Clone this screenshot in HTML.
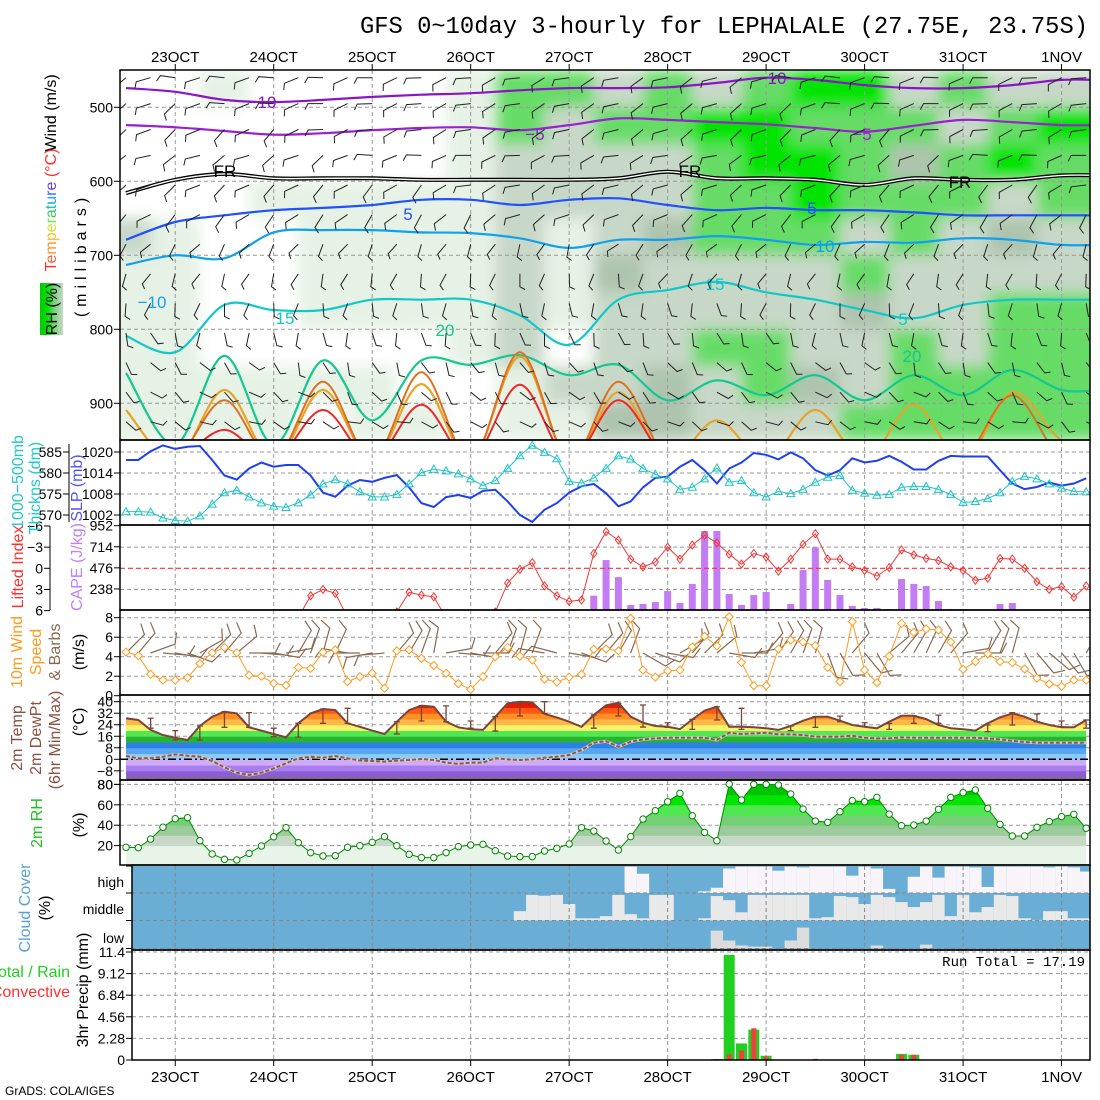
<!DOCTYPE html>
<html><head><meta charset="utf-8"><title>GFS meteogram LEPHALALE</title>
<style>
html,body{margin:0;padding:0;background:#fff;}
svg{display:block;font-family:"Liberation Sans",sans-serif;}
.tk{font-size:14px;fill:#000;}
.lab{font-size:16px;}
</style></head>
<body>
<svg id="chart" width="1100" height="1100" viewBox="0 0 1100 1100" xmlns="http://www.w3.org/2000/svg">
<defs>
<clipPath id="cpUpper"><rect x="120" y="70" width="970" height="370"/></clipPath>
<clipPath id="cpSlp"><rect x="120" y="440" width="970" height="85"/></clipPath>
<clipPath id="cpCape"><rect x="120" y="525" width="970" height="85"/></clipPath>
<clipPath id="cpWind"><rect x="120" y="610" width="970" height="85"/></clipPath>
<clipPath id="cpTemp"><rect x="120" y="695" width="970" height="85"/></clipPath>
<clipPath id="cpRh"><rect x="120" y="780" width="970" height="85"/></clipPath>
<clipPath id="cpPrec"><rect x="132" y="950" width="958" height="110"/></clipPath>
<filter id="blurF" x="-5%" y="-5%" width="110%" height="110%"><feGaussianBlur stdDeviation="7"/></filter>
<linearGradient id="rhGrad" x1="0" y1="0" x2="1" y2="0">
<stop offset="0" stop-color="#00c800"/><stop offset="0.35" stop-color="#00e600"/><stop offset="0.6" stop-color="#78d078"/><stop offset="1" stop-color="#c8d8c8"/></linearGradient>
</defs>
<rect x="0" y="0" width="1100" height="1100" fill="#fff"/>
<text x="360" y="33" font-family="Liberation Mono, monospace" font-size="24" textLength="728" lengthAdjust="spacingAndGlyphs">GFS 0~10day 3-hourly for LEPHALALE (27.75E, 23.75S)</text>

<g id="layerShade" clip-path="url(#cpUpper)"></g>
<g id="layerGrid"></g>
<g id="layerUpper" clip-path="url(#cpUpper)"></g>
<g id="layerSlp" clip-path="url(#cpSlp)"></g>
<g id="layerCape" clip-path="url(#cpCape)"></g>
<g id="layerWind" clip-path="url(#cpWind)"></g>
<g id="layerTemp" clip-path="url(#cpTemp)"></g>
<g id="layerRh" clip-path="url(#cpRh)"></g>
<g id="layerCloud"></g>
<g id="layerPrec" clip-path="url(#cpPrec)"></g>
<g id="layerFrame"></g>
<g id="layerAxes"></g>

<g>
<text class="lab" transform="translate(56,113) rotate(-90)" text-anchor="middle">Wind (m/s)</text>
<text class="lab" transform="translate(56,210) rotate(-90)" text-anchor="middle"><tspan fill="#ff3030">T</tspan><tspan fill="#ff6030">e</tspan><tspan fill="#ff9030">m</tspan><tspan fill="#f0c030">p</tspan><tspan fill="#d0e030">e</tspan><tspan fill="#80e040">r</tspan><tspan fill="#30d060">a</tspan><tspan fill="#20c0b0">t</tspan><tspan fill="#20a0f0">u</tspan><tspan fill="#3070f0">r</tspan><tspan fill="#6040f0">e</tspan><tspan fill="#ff3030"> (°C)</tspan></text>
<text class="lab" transform="translate(86,255) rotate(-90)" text-anchor="middle" letter-spacing="5">(millibars)</text>
<rect x="40" y="283" width="23" height="52" fill="url(#rhGrad)"/>
<text class="lab" transform="translate(57,309) rotate(-90)" text-anchor="middle" font-size="15">RH (%)</text>
</g>
<g>
<text class="lab" fill="#20c8c8" transform="translate(23,482) rotate(-90)" text-anchor="middle">1000−500mb</text>
<text class="lab" fill="#20c8c8" transform="translate(40,488) rotate(-90)" text-anchor="middle">Thickns (dm)</text>
<text class="lab" fill="#5050ff" transform="translate(82,488) rotate(-90)" text-anchor="middle">SLP (mb)</text>
<text class="lab" fill="#ff3030" transform="translate(23,567) rotate(-90)" text-anchor="middle">Lifted Index</text>
<text class="lab" fill="#c080f8" transform="translate(82,567) rotate(-90)" text-anchor="middle">CAPE (J/kg)</text>
<text class="lab" fill="#ff9a20" transform="translate(22,652) rotate(-90)" text-anchor="middle">10m Wind</text>
<text class="lab" fill="#ff9a20" transform="translate(41,652) rotate(-90)" text-anchor="middle">Speed</text>
<text class="lab" fill="#8a6a50" transform="translate(60,652) rotate(-90)" text-anchor="middle">&amp; Barbs</text>
<text class="lab" transform="translate(84,652) rotate(-90)" text-anchor="middle">(m/s)</text>
<text class="lab" fill="#8a5040" transform="translate(22,738) rotate(-90)" text-anchor="middle">2m Temp</text>
<text class="lab" fill="#8a5040" transform="translate(41,738) rotate(-90)" text-anchor="middle">2m DewPt</text>
<text class="lab" fill="#8a5040" transform="translate(60,740) rotate(-90)" text-anchor="middle">(6hr Min/Max)</text>
<text class="lab" transform="translate(84,722) rotate(-90)" text-anchor="middle">(°C)</text>
<text class="lab" fill="#20c020" transform="translate(42,823) rotate(-90)" text-anchor="middle">2m RH</text>
<text class="lab" transform="translate(84,825) rotate(-90)" text-anchor="middle">(%)</text>
<text class="lab" fill="#5aa0d8" transform="translate(30,908) rotate(-90)" text-anchor="middle">Cloud Cover</text>
<text class="lab" transform="translate(50,908) rotate(-90)" text-anchor="middle">(%)</text>
<text class="lab" x="70" y="977" text-anchor="end" fill="#20d020">Total / Rain</text>
<text class="lab" x="70" y="997" text-anchor="end" fill="#ff3030">Convective</text>
<text class="lab" transform="translate(88,990) rotate(-90)" text-anchor="middle">3hr Precip (mm)</text>
<text class="tk" x="124" y="887" text-anchor="end" font-size="15">high</text>
<text class="tk" x="124" y="914" text-anchor="end" font-size="15">middle</text>
<text class="tk" x="124" y="943" text-anchor="end" font-size="15">low</text>
<text x="1085" y="966" text-anchor="end" font-family="Liberation Mono, monospace" font-size="14">Run Total = 17.19</text>
<text x="5" y="1095" font-size="12">GrADS: COLA/IGES</text>
</g>
</svg>
<script>
// ---------- data (3-hourly, from 22OCT12Z) ----------
const dayLabels=['23OCT','24OCT','25OCT','26OCT','27OCT','28OCT','29OCT','30OCT','31OCT','1NOV'];
const slp=[1017.7,1017.7,1020.2,1021.9,1020.9,1021.5,1021.7,1017.7,1013.3,1012.1,1015.3,1017,1015.8,1016.3,1016.3,1013.3,1008.4,1007.2,1010.4,1012,1011.5,1012.6,1013.4,1009.9,1005.4,1004.3,1007.1,1007.7,1006.9,1008.9,1009.2,1005.9,1002,1000,1003.5,1005.4,1008.4,1010.2,1010.9,1008.2,1004.5,1005.9,1009.9,1012.6,1013,1015.8,1017.7,1014.8,1011,1015.3,1017,1019.7,1019.2,1017.9,1019.9,1018.2,1014.8,1013.3,1014.8,1018.2,1017,1017.5,1018.9,1017.2,1015,1015,1017.5,1018.9,1018.7,1018.7,1018.7,1014.8,1011,1009.4,1010,1011.3,1010.4,1011,1012.5];
const thick=[570.8,570.8,570.7,569.3,568.7,568.5,569.8,572.6,575.3,575.9,574.3,572.9,572.1,571.8,572.9,574.8,577.4,578.4,577.4,575.5,574.3,574.3,574.9,577.4,580.1,580.9,580.5,579.8,578.6,577,578.2,581.1,584.1,586.6,584.9,583.4,578,577.6,578.8,581.1,584.1,583.3,581.1,579.7,578.6,576.1,576.6,578.6,581.2,577.8,578.2,575.3,574.3,575.6,575.1,576.1,577.8,579,579.4,575.9,575.2,574.7,574.9,576.6,576.8,576.8,576.1,574.9,573,573.2,573.9,575.3,578,579.2,578.6,577.4,576.4,575.6,575.5];
const liftedIndex=[9,9,9,9,9,9,9,9,9,9,9,9,9,9,7,3.9,3,3.55,7,9,9,9,6.2,3.4,3.8,4.05,7,9,9,9,6.2,2.1,0.15,-0.8,2.5,3.9,4.7,4.5,-2.1,-5.2,-4,-1.3,-0.2,-0.9,-3,-1.3,-3.3,-4.7,-3.6,-2,-0.6,-2.1,-1.6,0.4,-1.3,-3.4,-4.9,-1.3,-1.3,-0.2,0.3,1.1,-0.1,-2.6,-1.9,-1.4,-1.1,-0.2,0.3,1.7,1.4,-1.4,-1.3,0,1.9,3,2.6,4.1,2.5];
const cape=[0,0,0,0,0,0,0,0,0,0,0,0,0,0,0,0,0,0,0,0,0,0,0,0,0,0,0,0,0,0,0,0,11,0,0,0,0,0,162,564,372,56,68,90,214,79,294,892,892,181,56,169,203,11,68,451,707,339,169,45,23,23,11,350,294,271,102,11,11,0,0,68,79,0,0,0,0,0,0];
const windSpeed=[4.48,4.1,2.2,1.6,1.6,1.85,3.3,4.4,4.95,4.4,2.1,2.0,1.27,1.07,2.9,2.8,4.45,4.7,1.44,1.95,2.3,0.76,4.6,4.7,3.83,3.1,2.3,1.24,0.65,1.95,4.0,4.95,4.06,3.66,1.7,1.4,1.9,2.2,4.76,4.8,4.6,7.93,2.63,1.9,2.55,2.63,5.0,6.1,5.1,8.1,3.4,1.03,1.03,4.8,5.7,5.5,5.13,2.9,1.44,7.6,2.63,1.34,4.06,7.4,6.5,6.84,6.74,5.5,2.7,3.5,4.3,3.5,3.4,2.74,1.8,1.2,0.96,1.6,1.6];
const windDir10=[45,40,70,95,100,110,60,45,40,50,90,95,100,80,30,20,15,25,280,270,260,265,40,30,20,10,80,95,100,90,40,20,15,20,280,285,100,110,45,40,30,20,120,110,100,60,40,45,50,100,90,80,40,35,30,20,15,160,150,40,140,150,50,40,30,25,30,40,80,90,30,20,15,150,140,130,140,150,30];
const temp2m=[28.5,27.3,20.4,16.9,15,13.4,23.1,29.6,33.1,31.9,22.2,19.9,17.6,15.3,25,31.9,34.9,34.2,25,22.6,19.9,17.6,26.1,34.2,37.3,36.5,26.1,22.2,20.8,20.4,29.6,38.9,40,39.6,31.5,29.1,26.1,22.6,30.8,37.5,39.3,29.6,25.4,23.1,22.6,21,27.7,33.8,36.5,22.6,22.6,22.2,21.5,20.4,23.1,26.8,29.6,29.6,26.8,23.8,22.6,21.5,26.1,30.2,30.2,27.9,23.8,21.5,20.8,19.9,25,29.1,31.9,29.6,26.1,23.8,22.2,22.2,27.3];
const dewpt2m=[2.3,0.7,0.7,1.8,3.4,2.5,1.8,-1.2,-5.6,-9.3,-10.9,-9.3,-6.3,-2.8,0.7,1.8,1.1,2.3,0.7,-0.9,-1.2,-1.6,-0.9,-0.5,0.2,-0.5,-2.3,-3.2,-2.3,-2.3,0.7,0,-0.5,0,1.1,1.8,3,6.4,11.5,12.6,8.7,12.2,13.8,14.5,15,15,15,15,13.4,18.5,17.6,18,18.5,17.3,17.3,16.9,15.7,15.7,15.7,16.4,15,14.5,14.5,15.2,15,15,15,15,15,15,14.5,13.8,12.8,12,11.5,11.5,11.5,11.5,11.5];
const tMax6=[null,null,28.5,null,19.9,null,23.1,null,33.1,null,32.4,null,21.6,null,25,null,34.9,null,35.4,null,null,null,26.1,null,37.3,null,37.1,null,26.6,null,29.6,null,39.3,null,40,null,null,null,30.8,null,38.9,null,37.7,null,25.4,null,27.7,null,36.5,null,35.4,null,null,null,23.1,null,29.6,null,30,null,25.4,null,24.9,null,30.2,null,30.7,null,null,null,23.8,null,32.4,null,31.5,null,26.6,null,27.3];
const tMin6=[null,null,21.6,null,13.4,null,13.4,null,22.2,null,22.2,null,15.7,null,15.3,null,25,null,25,null,null,null,17.6,null,26.6,null,26.1,null,21.6,null,19.6,null,30.1,null,31.9,null,null,null,21.6,null,30.1,null,22.4,null,22.2,null,20.8,null,27.3,null,20.8,null,null,null,19.9,null,22.2,null,26.1,null,22.6,null,20.8,null,25,null,25,null,null,null,19.2,null,23.8,null,26.1,null,22.6,null,21.6];
const rh2m=[18.3,18,26.4,38,46.4,47.4,24.8,11.8,6.5,5.9,12.4,19.6,28.7,37.6,22.9,13.1,9.8,10.1,18.3,19.9,23.2,28.8,19.9,11.4,8.2,8.2,13.1,19,20.6,21.2,15,9.8,9.2,9.2,14.7,17.3,21.6,37.6,34.3,24.5,15.7,28.8,46,54.2,63,71.2,49.3,32.9,24.8,80.4,64.7,80,80,79.4,70.6,55.8,44.1,42.8,53.2,64.1,63,67.3,50.9,39.5,40.2,44.1,55.6,67.3,71.9,74.5,56.5,40.8,29.4,29.4,37.9,43.5,48.4,50.7,37];
const cloudHigh=[0,0,0,0,0,0,0,0,0,0,0,0,0,0,0,0,0,0,0,0,0,0,0,0,0,0,0,0,0,0,0,0,0,0,0,0,0,0,0,0,0,96,70,0,0,0,0,6,19,89,96,96,96,81,96,93,96,96,96,63,96,89,15,0,59,96,56,96,96,93,22,96,96,96,96,93,96,93,78];
const cloudMid=[0,0,0,0,0,0,0,0,0,0,0,0,0,0,0,0,0,0,0,0,0,0,0,0,0,0,0,0,0,0,0,0,34,93,90,93,60,8,8,16,93,23,8,93,93,0,0,8,89,74,30,93,93,93,93,93,8,12,89,85,60,93,85,67,49,67,93,16,93,30,49,93,89,8,2,34,34,8,8];
const cloudLow=[0,0,0,0,0,0,0,0,0,0,0,0,0,0,0,0,0,0,0,0,0,0,0,0,0,0,0,0,0,0,0,0,0,0,0,0,0,0,0,0,0,0,0,0,0,0,0,0,65,29,11,7,7,0,29,76,0,0,0,0,0,11,0,0,0,14,0,0,0,0,0,0,0,0,0,0,0,0,0];
const precipTotal=[0,0,0,0,0,0,0,0,0,0,0,0,0,0,0,0,0,0,0,0,0,0,0,0,0,0,0,0,0,0,0,0,0,0,0,0,0,0,0,0,0,0,0,0,0,0,0,0,0.1,11.1,1.75,3.2,0.45,0,0,0,0,0,0,0,0,0,0,0.65,0.55,0,0,0,0,0,0.05,0.05,0,0,0,0,0,0.05,0.05];
const precipConv=[0,0,0,0,0,0,0,0,0,0,0,0,0,0,0,0,0,0,0,0,0,0,0,0,0,0,0,0,0,0,0,0,0,0,0,0,0,0,0,0,0,0,0,0,0,0,0,0,0.1,0.6,1.0,3.35,0.35,0,0,0,0.12,0,0,0,0,0,0,0.55,0.55,0,0,0,0,0,0.05,0.05,0,0,0,0,0,0.05,0.05];
const isoM10=[474,479,490,493,490,486,483,481,477,474,474,473,467,460,463,470,474,474,470,463];
const isoM5=[524,527,532,537,535,531,528,527,531,524,515,517,520,523,528,533,525,517,520,524];
const iso0=[616,598,590,596,596,596,598,598,598,598,596,587,596,596,598,605,596,598,598,592];
const iso5=[679,655,646,639,636,632,625,625,632,625,623,632,639,636,639,639,642,646,646,646];
const iso10=[713,700,704,669,666,666,669,670,677,690,679,679,674,679,686,682,683,677,679,686];
const iso15=[809,831,767,774,774,760,760,760,781,821,760,747,736,750,760,774,785,767,760,760];
const iso20=[859,956,836,956,842,923,842,848,835,862,848,896,869,889,862,896,862,889,855,882];
const iso25=[909,977,882,977,882,977,874,977,837,977,885,977,923,977,909,977,902,977,885,950];
const iso27=[977,977,896,977,871,977,858,977,831,977,871,977,977,977,977,977,977,977,889,977];
const iso30=[977,977,936,977,909,977,902,977,875,977,896,977,977,977,977,977,977,977,977,977];
const rhGrid=[
"00100001442424552422",
"00000001424455444245",
"00000001222245543454",
"00011111222244544424",
"21001111212344424232",
"11001111213222242222",
"11001111212222232244",
"11000001202244224244",
"11111100122324324444",
"11110110113322244444"];
const upLevels=[460,495,530,565,605,645,685,725,765,805,845,885,925];
const upDir=[255,250,245,250,240,230,215,200,185,170,150,135,120];
const upSpeed=[15,14,12,11,10,9,8,7,6,6,5,5,5];
const tickUpper=[500,600,700,800,900];
const tickSlp=[1020,1014,1008,1002];
const tickThick=[585,580,575,570];
const tickLI=[-6,-3,0,3,6];
const tickCape=[952,714,476,238];
const tickWind=[0,2,4,6,8];
const tickTemp=[40,32,24,16,8,0,-8];
const tickRh=[20,40,60,80];
const tickPrec=[0,2.28,4.56,6.84,9.12,11.4];

const NS='http://www.w3.org/2000/svg';
function X(i){return 126+i*12.31;}
function XK(k){return 126+k*49.24;}
function XD(d){return X(4+8*d);}
function yP(p){return 107.3+(p-500)*0.74;}
function ySlp(v){return 452+(1020-v)*21/6;}
function yTh(v){return 452+(585-v)*21/5;}
function yLI(v){return 568.3+v*7.05;}
function yCape(v){return 610-v*84.3/952;}
function yW(v){return 695.7-v*9.75;}
function yT(v){return 759.3-v*1.44;}
function yRH(v){return 866-v*1.02;}
function yPr(v){return 1060-v*108/11.4;}
function mk(tag,attrs,parent){const e=document.createElementNS(NS,tag);for(const k in attrs)e.setAttribute(k,attrs[k]);parent.appendChild(e);return e;}
function L(id){return document.getElementById(id);}
function poly(xs,ys){return xs.map((x,j)=>(j?'L':'M')+x.toFixed(1)+' '+ys[j].toFixed(1)).join(' ');}
function smooth(xs,ys){let d='M'+xs[0]+' '+ys[0];for(let j=0;j<xs.length-1;j++){const x0=xs[Math.max(j-1,0)],y0=ys[Math.max(j-1,0)],x1=xs[j],y1=ys[j],x2=xs[j+1],y2=ys[j+1],x3=xs[Math.min(j+2,xs.length-1)],y3=ys[Math.min(j+2,xs.length-1)];d+=' C'+(x1+(x2-x0)/6).toFixed(1)+' '+(y1+(y2-y0)/6).toFixed(1)+' '+(x2-(x3-x1)/6).toFixed(1)+' '+(y2-(y3-y1)/6).toFixed(1)+' '+x2.toFixed(1)+' '+y2.toFixed(1);}return d;}
const idx=slp.map((_,i)=>i);
const defs=document.querySelector('#chart defs');

// upper RH shading
const shadeCol=['none','#e6f2e6','#c8d8c8','#aec4ae','#66dc66','#00e400'];
const sg=mk('g',{filter:'url(#blurF)'},L('layerShade'));
rhGrid.forEach((row,r)=>{for(let k=0;k<row.length;k++){const c=+row[k];if(!c)continue;
 const x0=k===0?100:XK(k)-24.62, x1=k===row.length-1?1110:XK(k)+24.62;
 const rc=mk('rect',{x:x0,y:yP(450+50*r),width:x1-x0,height:37.2,fill:shadeCol[c]},sg);
 
 }});

// grid
const gg=L('layerGrid');
const panels=[[70,440],[440,525],[525,610],[610,695],[695,780],[780,865],[865,950],[950,1060]];
panels.forEach(pp=>{for(let d=0;d<dayLabels.length;d++){const ln=mk('line',{x1:XD(d),x2:XD(d),y1:pp[0],y2:pp[1],stroke:'#999',"stroke-width":1,"stroke-dasharray":'4,3'},gg);
 
 }});
function hgrid(y,x0,dash,col){const ln=mk('line',{x1:x0||120,x2:1090,y1:y,y2:y,stroke:col||'#999',"stroke-width":1,"stroke-dasharray":dash||'4,3'},gg);
 
 }
tickUpper.forEach(p=>hgrid(yP(p)));
tickSlp.forEach(v=>hgrid(ySlp(v)));
[-3,3].forEach(v=>hgrid(yLI(v)));
[2,4,6,8].forEach(v=>hgrid(yW(v)));
[40,32,24,16,8,-8].forEach(v=>hgrid(yT(v)));
tickRh.forEach(v=>hgrid(yRH(v)));
tickPrec.slice(1).forEach(v=>hgrid(yPr(v),132));

// upper air
const ug=L('layerUpper');
const kx=isoM10.map((_,k)=>XK(k)).concat([1100]);
function iso(arr,color,w,name){const ys=arr.concat([arr[arr.length-1]]).map(yP);const p=mk('path',{d:smooth(kx,ys),fill:'none',stroke:color,"stroke-width":w},ug);
 
 return ys;}
iso(isoM10,'#8c14c8',2.2,'isotherm-minus10');
iso(isoM5,'#9a20d0',2.2,'isotherm-minus5');
iso(iso0,'#000',4,'isotherm-freezing');
{const ys=iso0.concat([iso0[iso0.length-1]]).map(yP);const p=mk('path',{d:smooth(kx,ys),fill:'none',stroke:'#fff',"stroke-width":1.4},ug);
 
 }
iso(iso5,'#2050ff',2.2,'isotherm-5');
iso(iso10,'#10a0f0',2.2,'isotherm-10');
iso(iso15,'#10c8c8',2.2,'isotherm-15');
iso(iso20,'#14c890',2.2,'isotherm-20');
iso(iso25,'#e8a428',2.2,'isotherm-25');
iso(iso27,'#e07020',2,'isotherm-27');
iso(iso30,'#f02828',2,'isotherm-30');
const isoLabels=[['−10',262,108,'#8c14c8'],['−10',772,84,'#8c14c8'],['−5',535,140,'#9a20d0'],['−5',862,140,'#9a20d0'],['FR',225,177,'#000'],['FR',690,177,'#000'],['FR',960,188,'#000'],['5',408,220,'#2050ff'],['5',812,214,'#2050ff'],['−10',152,308,'#10a0f0'],['10',825,252,'#10a0f0'],['15',285,324,'#10c8c8'],['15',715,290,'#10c8c8'],['20',445,336,'#14c890'],['20',912,362,'#14c890'],['5',903,325,'#10c8c8']];
isoLabels.forEach(a=>{const t=mk('text',{x:a[1],y:a[2],fill:a[3],"font-size":17,"text-anchor":'middle'},ug);t.textContent=a[0];
 
 });
function barb(g,x,y,dir,len,col,w,name){const r=dir*Math.PI/180;const x2=x+Math.sin(r)*len,y2=y-Math.cos(r)*len;const fr=r-1.1;const fx=x2+Math.sin(fr)*len*0.45,fy=y2-Math.cos(fr)*len*0.45;
 const p=mk('path',{d:'M'+x.toFixed(1)+' '+y.toFixed(1)+' L'+x2.toFixed(1)+' '+y2.toFixed(1)+' L'+fx.toFixed(1)+' '+fy.toFixed(1),fill:'none',stroke:col,"stroke-width":w},g);
 
 }
for(let i=0;i<79;i+=2){upLevels.forEach((p,l)=>{barb(ug,X(i),yP(p),upDir[l]+((i*37+l*53)%50-25),upSpeed[l]>8?15:13,'#222',1,'upper-wind-barb');});}

// SLP / thickness
const sgp=L('layerSlp');
{const p=mk('path',{d:poly(idx.map(X),slp.map(ySlp)),fill:'none',stroke:'#2040f0',"stroke-width":2},sgp);
 
 }
{const p=mk('path',{d:poly(idx.map(X),thick.map(yTh)),fill:'none',stroke:'#20c4c4',"stroke-width":1},sgp);
 
 }
thick.forEach((v,i)=>{const x=X(i),y=yTh(v);const t=mk('path',{d:`M${x} ${y-4} L${x+4} ${y+3} L${x-4} ${y+3} Z`,fill:'none',stroke:'#20c4c4',"stroke-width":1},sgp);
 
 });

// CAPE / LI
const cg=L('layerCape');
cape.forEach((v,i)=>{if(v<=0)return;const b=mk('rect',{x:X(i)-3.5,y:yCape(v),width:7,height:610-yCape(v),fill:'#c47cf4'},cg);
 
 });
{const l=mk('line',{x1:120,x2:1090,y1:yLI(0),y2:yLI(0),stroke:'#ff3030',"stroke-width":1.2,"stroke-dasharray":'5,3'},cg);
 
 }
{const p=mk('path',{d:poly(idx.map(X),liftedIndex.map(yLI)),fill:'none',stroke:'#f03838',"stroke-width":1},cg);
 
 }
liftedIndex.forEach((v,i)=>{const x=X(i),y=yLI(v);const m=mk('path',{d:`M${x} ${y-4} L${x+3} ${y} L${x} ${y+4} L${x-3} ${y} Z`,fill:'none',stroke:'#f03838',"stroke-width":1},cg);
 
 });

// wind
const wg=L('layerWind');
windDir10.forEach((d,i)=>barb(wg,X(i),653,d,26,'#8a6a50',1.2,'surface-wind-barb'));
{const p=mk('path',{d:poly(idx.map(X),windSpeed.map(yW)),fill:'none',stroke:'#ff9a20',"stroke-width":1},wg);
 
 }
windSpeed.forEach((v,i)=>{const x=X(i),y=yW(v);const m=mk('path',{d:`M${x} ${y-4} L${x+4} ${y} L${x} ${y+4} L${x-4} ${y} Z`,fill:'#fff',stroke:'#ff9a20',"stroke-width":1},wg);
 
 });

// temperature
const tg=L('layerTemp');
const tBands=[[-16,'#806c90'],[-12,'#8c5cd4'],[-8,'#a67ef0'],[-4,'#d2aafa'],[0,'#8ccaf8'],[4,'#58a6f0'],[8,'#2c80e8'],[12,'#28b430'],[16,'#52e852'],[20,'#f2f46a'],[24,'#ffb848'],[28,'#ff9024'],[32,'#ff5812'],[36,'#e81a00'],[40,'#b00000']];
{const cp=mk('clipPath',{id:'tArea'},defs);
 mk('path',{d:poly(idx.map(X),temp2m.map(yT))+` L${X(78)} 781 L${X(0)} 781 Z`},cp);}
const tbg=mk('g',{"clip-path":'url(#tArea)'},tg);
tBands.forEach(b=>{const r=mk('rect',{x:120,y:yT(b[0]+4),width:970,height:yT(b[0])-yT(b[0]+4)+0.5,fill:b[1]},tbg);
 
 });
{const l=mk('line',{x1:120,x2:1090,y1:yT(0),y2:yT(0),stroke:'#000',"stroke-width":1.5,"stroke-dasharray":'8,3,2,3'},tg);
 
 }
{const p=mk('path',{d:poly(idx.map(X),dewpt2m.map(yT)),fill:'none',stroke:'#d8c8c8',"stroke-width":3},tg);
 
 }
{const p=mk('path',{d:poly(idx.map(X),dewpt2m.map(yT)),fill:'none',stroke:'#8a5a4a',"stroke-width":2,"stroke-dasharray":'4,2'},tg);
 
 }
{const p=mk('path',{d:poly(idx.map(X),temp2m.map(yT)),fill:'none',stroke:'#7a4438',"stroke-width":2},tg);
 
 }
tMax6.forEach((mx,i)=>{const mn=tMin6[i];if(mx==null||mn==null)return;const x=X(i);
 const p=mk('path',{d:`M${x} ${yT(mx)} L${x} ${yT(mn)} M${x-3} ${yT(mx)} L${x+3} ${yT(mx)} M${x-3} ${yT(mn)} L${x+3} ${yT(mn)}`,fill:'none',stroke:'#7a4438',"stroke-width":1.3},tg);
 
 });

// RH
const rg=L('layerRh');
const rhBands=[[0,20,'#e8f4e8'],[20,30,'#c8d8c8'],[30,40,'#9ccc9c'],[40,50,'#74d074'],[50,60,'#50e850'],[60,70,'#00e400'],[70,80,'#00c400'],[80,100,'#00a400']];
{const cp=mk('clipPath',{id:'rhArea'},defs);
 mk('path',{d:poly(idx.map(X),rh2m.map(yRH))+` L${X(78)} 866 L${X(0)} 866 Z`},cp);}
const rbg=mk('g',{"clip-path":'url(#rhArea)'},rg);
rhBands.forEach(b=>{const r=mk('rect',{x:120,y:yRH(b[1]),width:970,height:yRH(b[0])-yRH(b[1])+0.5,fill:b[2]},rbg);
 
 });
{const p=mk('path',{d:poly(idx.map(X),rh2m.map(yRH)),fill:'none',stroke:'#008a00',"stroke-width":1},rg);
 
 }
rh2m.forEach((v,i)=>{const c=mk('circle',{cx:X(i),cy:yRH(v),r:3.2,fill:'#fff',stroke:'#008a00',"stroke-width":1},rg);
 
 });

// cloud
const clg=L('layerCloud');
{const r=mk('rect',{x:132,y:866,width:958,height:83,fill:'#6aaed6'},clg);
 
 }
const rows=[[cloudHigh,893,'#f8f4fa','cloud-high-bar'],[cloudMid,920.5,'#e9e9e9','cloud-mid-bar'],[cloudLow,948.5,'#dcdcdc','cloud-low-bar']];
rows.forEach(rw=>{rw[0].forEach((v,i)=>{if(v<=0)return;const h=v/100*27.5;const x0=Math.max(132,X(i)-6.16);const b=mk('rect',{x:x0,y:rw[1]-h,width:Math.min(1090,X(i)+6.16)-x0,height:h,fill:rw[2]},clg);
 
 });});
[893,920.5,948.5].forEach(y=>{const l=mk('line',{x1:132,x2:1090,y1:y,y2:y,stroke:'#888',"stroke-width":1,"stroke-dasharray":'4,3'},clg);
 
 });
for(let d=0;d<dayLabels.length;d++){const l=mk('line',{x1:XD(d),x2:XD(d),y1:866,y2:950,stroke:'#888',"stroke-width":1,"stroke-dasharray":'4,3'},clg);
 
 }

// precip
const pg=L('layerPrec');
precipTotal.forEach((v,i)=>{if(v<=0)return;const b=mk('rect',{x:X(i)-5.5,y:yPr(v),width:11,height:1060-yPr(v),fill:'#20d020'},pg);
 
 });
precipConv.forEach((v,i)=>{if(v<=0)return;const b=mk('rect',{x:X(i)-2.5,y:yPr(v),width:5,height:1060-yPr(v),fill:'#f04040'},pg);
 
 });

// frames
const fg=L('layerFrame');
panels.forEach((pp,j)=>{const x0=j>=6?132:120;const r=mk('rect',{x:x0,y:pp[0],width:1090-x0,height:pp[1]-pp[0],fill:'none',stroke:'#000',"stroke-width":1.5},fg);
 
 });

// axes
const ag=L('layerAxes');
function tlabel(x,y,txt,anchor,name){const t=mk('text',{x:x,y:y+5,"text-anchor":anchor||'end',class:'tk'},ag);t.textContent=txt;
 
 }
function tick(x1,x2,y){const l=mk('line',{x1:x1,x2:x2,y1:y,y2:y,stroke:'#000',"stroke-width":1},ag);
 
 }
function vaxis(x,y1,y2){const l=mk('line',{x1:x,x2:x,y1:y1,y2:y2,stroke:'#000',"stroke-width":1},ag);
 
 }
tickUpper.forEach(p=>{tick(114,120,yP(p));tlabel(113,yP(p),String(p),'end','pressure-tick-label');});
tickSlp.forEach(v=>{tick(114,120,ySlp(v));tlabel(113,ySlp(v),String(v),'end','slp-tick-label');});
vaxis(69,444,522);
tickThick.forEach(v=>{tick(63,69,yTh(v));tlabel(62,yTh(v),String(v),'end','thickness-tick-label');});
vaxis(50,526,610);
tickLI.forEach(v=>{tick(44,50,yLI(v));tlabel(43,yLI(v),v<0?'−'+(-v):String(v),'end','li-tick-label');});
tickCape.forEach(v=>{tick(114,120,yCape(v));tlabel(113,yCape(v),String(v),'end','cape-tick-label');});
tickWind.forEach(v=>{tick(114,120,yW(v));tlabel(113,yW(v),String(v),'end','wind-tick-label');});
tickTemp.forEach(v=>{tick(114,120,yT(v));tlabel(113,yT(v),v<0?'−'+(-v):String(v),'end','temp-tick-label');});
tickRh.concat([80]).forEach(v=>{tick(114,120,yRH(v));tlabel(113,yRH(v),String(v),'end','rh-tick-label');});
tickPrec.forEach(v=>{tick(126,132,yPr(v));tlabel(125,yPr(v),String(v),'end','precip-tick-label');});
[866,893,920.5,948.5].forEach(y=>tick(126,132,y));
dayLabels.forEach((s,d)=>{const t=mk('text',{x:XD(d),y:62,"text-anchor":'middle',"font-size":15},ag);t.textContent=s;
 
 
 const b=mk('text',{x:XD(d),y:1082,"text-anchor":'middle',"font-size":15},ag);b.textContent=s;
 
 
 const tt=mk('line',{x1:XD(d),x2:XD(d),y1:64,y2:70,stroke:'#000',"stroke-width":1},ag);
 
 
 const bt=mk('line',{x1:XD(d),x2:XD(d),y1:1060,y2:1066,stroke:'#000',"stroke-width":1},ag);
 
 });
</script>
</body></html>
